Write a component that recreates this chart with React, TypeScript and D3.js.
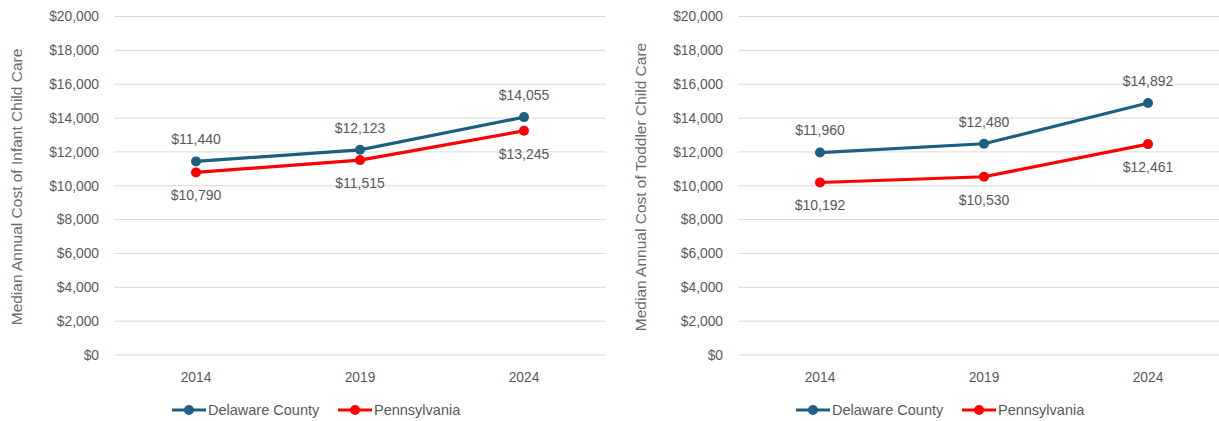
import React from "react";
import * as d3 from "d3";

const years = ["2014", "2019", "2024"];
const infantDelaware = [11440, 12123, 14055];
const infantPennsylvania = [10790, 11515, 13245];
const toddlerDelaware = [11960, 12480, 14892];
const toddlerPennsylvania = [10192, 10530, 12461];
const yTicks = [0, 2000, 4000, 6000, 8000, 10000, 12000, 14000, 16000, 18000, 20000];
const seriesNames = ["Delaware County", "Pennsylvania"];

const BLUE = "#1d5f80";
const RED = "#ff0000";
const TEXT = "#595959";
const GRID = "#d9d9d9";
const FONT = "'Liberation Sans', Arial, sans-serif";

const fmt = (v: number) => "$" + d3.format(",")(v);

function Panel({ x0, title, blue, red }: { x0: number; title: string; blue: number[]; red: number[] }) {
  const plotLeft = x0 + 114;
  const plotRight = x0 + 606;
  const x = d3.scaleBand<string>().domain(years).range([plotLeft, plotRight]);
  const y = d3.scaleLinear().domain([0, 20000]).range([355, 16.5]);
  const cx = (d: string) => (x(d) as number) + x.bandwidth() / 2;
  const line = d3.line<number>().x((_, i) => cx(years[i])).y((v) => y(v));
  const midY = 187;
  const legendY = 410;
  const fs = 13.8;
  return (
    <g>
      {yTicks.map((t) => (
        <g key={t}>
          <line x1={plotLeft} x2={plotRight} y1={y(t)} y2={y(t)} stroke={GRID} strokeWidth={1} />
          <text x={x0 + 99} y={y(t)} dy="0.35em" textAnchor="end" fontSize={fs} fill={TEXT} fontFamily={FONT}>
            {fmt(t)}
          </text>
        </g>
      ))}
      {years.map((yr) => (
        <text key={yr} x={cx(yr)} y={377} dy="0.35em" textAnchor="middle" fontSize={fs} fill={TEXT} fontFamily={FONT}>
          {yr}
        </text>
      ))}
      <text
        transform={`translate(${x0 + 17},${midY}) rotate(-90)`}
        dy="0.35em"
        textAnchor="middle"
        fontSize={15.5}
        fill="#6b6b6b"
        fontFamily={FONT}
      >
        {title}
      </text>
      <path d={line(red) || ""} fill="none" stroke={RED} strokeWidth={3.2} />
      <path d={line(blue) || ""} fill="none" stroke={BLUE} strokeWidth={3.2} />
      {red.map((v, i) => (
        <g key={"r" + i}>
          <circle cx={cx(years[i])} cy={y(v)} r={5} fill={RED} />
          <text x={cx(years[i])} y={y(v) + 23} dy="0.35em" textAnchor="middle" fontSize={14} fill={TEXT} fontFamily={FONT}>
            {fmt(v)}
          </text>
        </g>
      ))}
      {blue.map((v, i) => (
        <g key={"b" + i}>
          <circle cx={cx(years[i])} cy={y(v)} r={5} fill={BLUE} />
          <text x={cx(years[i])} y={y(v) - 22} dy="0.35em" textAnchor="middle" fontSize={14} fill={TEXT} fontFamily={FONT}>
            {fmt(v)}
          </text>
        </g>
      ))}
      {[BLUE, RED].map((c, i) => {
        const lx = x0 + 172 + i * 166;
        return (
          <g key={c}>
            <line x1={lx} x2={lx + 34} y1={legendY} y2={legendY} stroke={c} strokeWidth={3.2} />
            <circle cx={lx + 17} cy={legendY} r={5} fill={c} />
            <text x={lx + 36} y={legendY} dy="0.35em" fontSize={14.5} fill={TEXT} fontFamily={FONT}>
              {seriesNames[i]}
            </text>
          </g>
        );
      })}
    </g>
  );
}

export default function App() {
  return (
    <svg
      width={1219}
      height={421}
      style={{ position: "absolute", left: 0, top: 0, background: "#fff" }}
    >
      <rect width={1219} height={421} fill="#fff" />
      <Panel x0={0} title="Median Annual Cost of Infant Child Care" blue={infantDelaware} red={infantPennsylvania} />
      <Panel x0={624} title="Median Annual Cost of Toddler Child Care" blue={toddlerDelaware} red={toddlerPennsylvania} />
    </svg>
  );
}
